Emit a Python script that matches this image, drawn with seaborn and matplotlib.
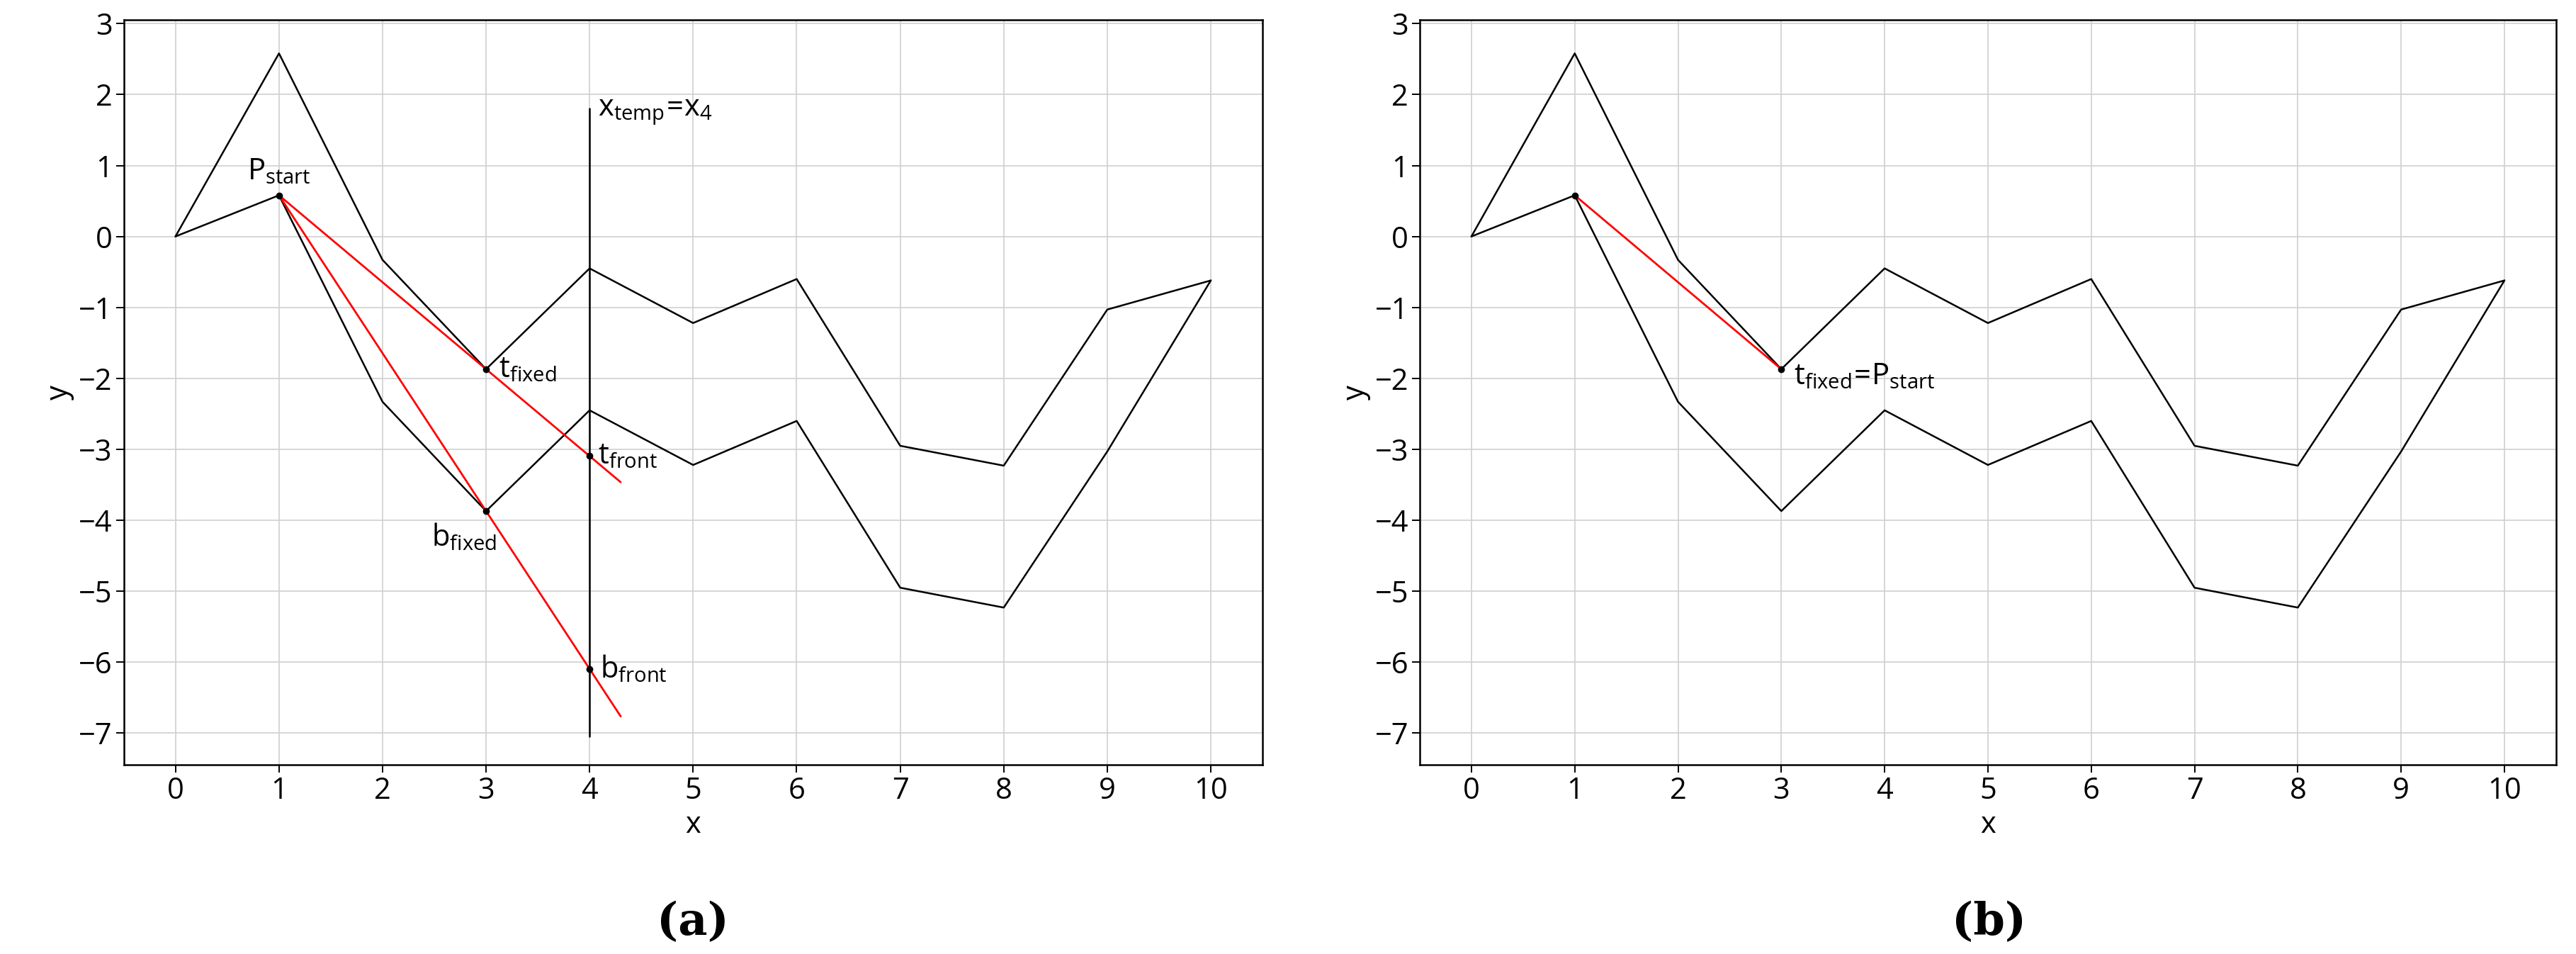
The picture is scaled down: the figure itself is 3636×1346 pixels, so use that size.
import numpy as np
import matplotlib
matplotlib.use('Agg')
import matplotlib.pyplot as plt
import seaborn as sns
import pandas as pd

x_vals = [0, 1, 2, 3, 4, 5, 6, 7, 8, 9, 10]
upper = [0, 2.58, -0.33, -1.87, -0.45, -1.22, -0.6, -2.95, -3.23, -1.03, -0.62]
lower = [0, 0.58, -2.33, -3.87, -2.45, -3.22, -2.6, -4.95, -5.23, -3.03, -0.62]

p_start = (1, 0.58)
t_fixed = (3, -1.87)
b_fixed = (3, -3.87)
x_temp = 4
red_end_x = 4.3
vert_range = (-7.05, 1.8)

sns.set_theme(style='whitegrid')
plt.rcParams['font.family'] = ['Open Sans', 'DejaVu Sans']
plt.rcParams['mathtext.fontset'] = 'custom'
plt.rcParams['mathtext.rm'] = 'Open Sans'
plt.rcParams['text.color'] = 'black'
plt.rcParams['axes.labelcolor'] = 'black'
plt.rcParams['xtick.color'] = 'black'
plt.rcParams['ytick.color'] = 'black'

fig = plt.figure(figsize=(36.37, 13.46), dpi=100)
ax_a = fig.add_axes([0.048, 0.198, 0.442, 0.781])
ax_b = fig.add_axes([0.551, 0.198, 0.441, 0.781])

df = pd.DataFrame({'x': x_vals, 'upper': upper, 'lower': lower})


def base(ax):
    sns.lineplot(data=df, x='x', y='upper', ax=ax, color='black', lw=1.8)
    sns.lineplot(data=df, x='x', y='lower', ax=ax, color='black', lw=1.8)
    ax.set_xlim(-0.5, 10.5)
    ax.set_ylim(-7.45, 3.05)
    ax.set_xticks(range(0, 11))
    ax.set_yticks(range(-7, 4))
    ax.grid(True, color='#d0d0d0', lw=1.2)
    ax.set_facecolor('white')
    for s in ax.spines.values():
        s.set_color('black')
        s.set_linewidth(1.8)
    ax.tick_params(axis='both', labelsize=30, length=8, width=1.4, color='black', left=True, bottom=True)
    ax.set_xlabel('x', fontsize=30)
    ax.set_ylabel('y', fontsize=30)


def line_at(p, q, xe):
    slope = (q[1] - p[1]) / (q[0] - p[0])
    return p[1] + slope * (xe - p[0])


# (a)
base(ax_a)
for q in (t_fixed, b_fixed):
    ax_a.plot([p_start[0], red_end_x], [p_start[1], line_at(p_start, q, red_end_x)], color='red', lw=2)
ax_a.plot([x_temp, x_temp], vert_range, color='black', lw=1.8)
t_front = (x_temp, line_at(p_start, t_fixed, x_temp))
b_front = (x_temp, line_at(p_start, b_fixed, x_temp))
for p in (p_start, t_fixed, b_fixed, t_front, b_front):
    ax_a.plot(*p, 'o', color='black', ms=6)
fs = 30
ax_a.text(p_start[0], p_start[1] + 0.12, r'$\mathrm{P_{start}}$', fontsize=fs, ha='center', va='bottom')
ax_a.text(t_fixed[0] + 0.12, t_fixed[1], r'$\mathrm{t_{fixed}}$', fontsize=fs, ha='left', va='center')
ax_a.text(b_fixed[0] + 0.1, b_fixed[1] - 0.15, r'$\mathrm{b_{fixed}}$', fontsize=fs, ha='right', va='top')
ax_a.text(t_front[0] + 0.08, t_front[1], r'$\mathrm{t_{front}}$', fontsize=fs, ha='left', va='center')
ax_a.text(b_front[0] + 0.1, b_front[1], r'$\mathrm{b_{front}}$', fontsize=fs, ha='left', va='center')
ax_a.text(x_temp + 0.08, 1.75, r'$\mathrm{x_{temp}\!=\!x_4}$', fontsize=fs, ha='left', va='center')

# (b)
base(ax_b)
ax_b.plot([p_start[0], t_fixed[0]], [p_start[1], t_fixed[1]], color='red', lw=2)
for p in (p_start, t_fixed):
    ax_b.plot(*p, 'o', color='black', ms=6)
ax_b.text(t_fixed[0] + 0.12, t_fixed[1] - 0.1, r'$\mathrm{t_{fixed}\!=\!P_{start}}$', fontsize=fs, ha='left', va='center')

fig.text(0.269, 0.02, '(a)', fontsize=46, ha='center', family='DejaVu Serif', weight='bold')
fig.text(0.772, 0.02, '(b)', fontsize=46, ha='center', family='DejaVu Serif', weight='bold')

fig.savefig('out.png', dpi=100, facecolor='white')
